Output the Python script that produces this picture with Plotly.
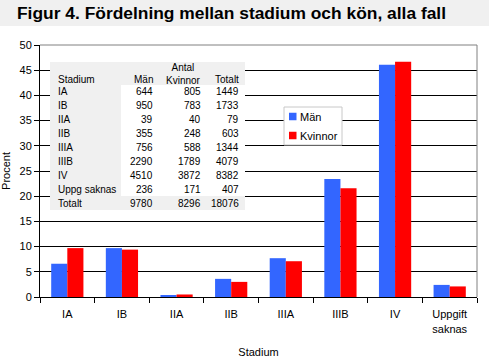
import plotly.graph_objects as go

# ---- data ----
categories = ["IA", "IB", "IIA", "IIB", "IIIA", "IIIB", "IV", "Uppgift<br>saknas"]
man_pct = [6.6, 9.7, 0.4, 3.6, 7.7, 23.4, 46.1, 2.4]
kvinnor_pct = [9.7, 9.4, 0.5, 3.0, 7.1, 21.6, 46.7, 2.1]
series_names = ["Män", "Kvinnor"]
series_colors = ["#3366FF", "#FF0000"]

table_stadium = ["IA", "IB", "IIA", "IIB", "IIIA", "IIIB", "IV", "Uppg saknas", "Totalt"]
table_man = [644, 950, 39, 355, 756, 2290, 4510, 236, 9780]
table_kvinnor = [805, 783, 40, 248, 588, 1789, 3872, 171, 8296]
table_totalt = [1449, 1733, 79, 603, 1344, 4079, 8382, 407, 18076]

W, H = 489, 360
L, R, T, B = 40, 12, 45, 63
PW = W - L - R
PH = H - T - B
FONT = "Arial, Liberation Sans, sans-serif"


def px(x):
    return (x - L) / PW


def py(y):
    return (H - B - y) / PH


fig = go.Figure()
for vals, nm, col in zip([man_pct, kvinnor_pct], series_names, series_colors):
    fig.add_trace(go.Bar(x=categories, y=vals, name=nm, marker_color=col,
                         marker_line_width=0, showlegend=False))

shapes = []
# title band
shapes.append(dict(type="rect", xref="paper", yref="paper", x0=px(0), x1=px(W),
                   y0=py(26), y1=py(0), fillcolor="#F0F0F0", line_width=0, layer="below"))
# top & right grey border
shapes.append(dict(type="line", xref="paper", yref="paper", x0=0, x1=1, y0=1, y1=1,
                   line=dict(color="#808080", width=1)))
shapes.append(dict(type="line", xref="paper", yref="paper", x0=1, x1=1, y0=0, y1=1,
                   line=dict(color="#808080", width=1)))
# inset table backgrounds
shapes.append(dict(type="rect", xref="paper", yref="paper", x0=px(50), x1=px(245),
                   y0=py(210), y1=py(62), fillcolor="#F0F0F0", line_width=0, layer="above"))
shapes.append(dict(type="rect", xref="paper", yref="paper", x0=px(121), x1=px(245),
                   y0=py(196), y1=py(85), fillcolor="#FFFFFF", line_width=0, layer="above"))

annotations = []
tfont = dict(family=FONT, size=10, color="black")


def txt(x, y, s, anchor, font=tfont, align="left"):
    annotations.append(dict(x=px(x), y=py(y), xref="paper", yref="paper", text=s,
                            showarrow=False, xanchor=anchor, yanchor="middle", font=font,
                            align=align, borderpad=0))


txt(202, 73.5, "Antal<br>Kvinnor", "right", align="center")
txt(57, 80, "Stadium", "left")
txt(154, 80, "Män", "right")
txt(240, 80, "Totalt", "right")
row_y0, row_dy = 91.5, 14
for i, st in enumerate(table_stadium):
    yy = row_y0 + i * row_dy
    txt(57, yy, st, "left")
    txt(154, yy, str(table_man[i]), "right")
    txt(202, yy, str(table_kvinnor[i]), "right")
    txt(240, yy, str(table_totalt[i]), "right")

# legend box (drawn manually to match compact style)
shapes.append(dict(type="rect", xref="paper", yref="paper", x0=px(284), x1=px(342),
                   y0=py(145), y1=py(107), fillcolor="white",
                   line=dict(color="#C8C8C8", width=1), layer="above"))
lfont = dict(family=FONT, size=11, color="black")
for i, (nm, col) in enumerate(zip(series_names, series_colors)):
    cy = 116.5 + i * 19
    shapes.append(dict(type="rect", xref="paper", yref="paper", x0=px(289), x1=px(296.5),
                       y0=py(cy + 3.75), y1=py(cy - 3.75), fillcolor=col, line_width=0,
                       layer="above"))
    txt(298.5, cy, nm, "left", font=lfont)

fig.update_layout(
    width=W, height=H,
    margin=dict(l=L, r=R, t=T, b=B, pad=0, autoexpand=False),
    paper_bgcolor="white", plot_bgcolor="white",
    font=dict(family=FONT, size=11, color="black"),
    title=dict(text="<b>Figur 4. Fördelning mellan stadium och kön, alla fall</b>",
               xref="container", yref="container", x=17 / W, xanchor="left",
               y=1 - 12.5 / H, yanchor="middle", font=dict(family=FONT, size=17.4, color="black")),
    barmode="group", bargap=0.41, bargroupgap=0,
    showlegend=False,
    shapes=shapes,
    annotations=annotations,
    xaxis=dict(type="category", showline=True, linecolor="black", linewidth=1,
               ticks="outside", tickson="boundaries", ticklen=5, tickcolor="black",
               showgrid=False, tickfont=dict(size=11), automargin=False,
               ticklabelstandoff=7,
               title=dict(text="Stadium", font=dict(size=11), standoff=14)),
    yaxis=dict(range=[0, 50], dtick=5, showline=True, linecolor="black", linewidth=1,
               ticks="outside", ticklen=5, tickcolor="black",
               showgrid=True, gridcolor="black", gridwidth=1, zeroline=False,
               tickfont=dict(size=11), automargin=False,
               title=dict(text="Procent", font=dict(size=11), standoff=10)),
)

fig.write_html("out.html", config={"displayModeBar": False},
               post_script="document.body.style.margin='0';document.body.style.padding='0';")
